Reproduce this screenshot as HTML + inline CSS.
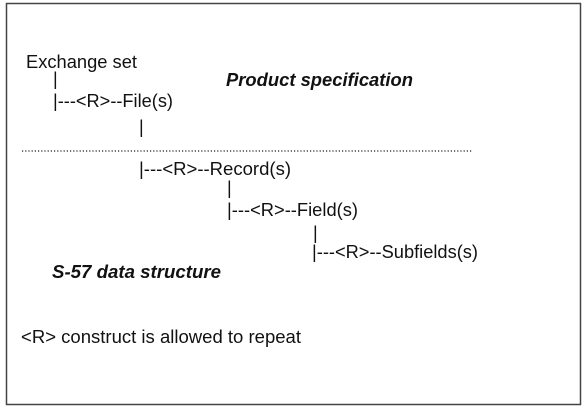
<!DOCTYPE html>
<html><head><style>
html,body{margin:0;padding:0;background:#fff;}
svg{display:block;}
text{font-family:"Liberation Sans",sans-serif;font-size:18px;fill:#111;}
.b{font-weight:bold;font-style:italic;}
</style></head><body>
<svg width="587" height="410" xmlns="http://www.w3.org/2000/svg">
<rect x="6.5" y="3.5" width="574" height="401" fill="#fff" stroke="#444" stroke-width="1.5"/>
<text x="26" y="68" textLength="111" lengthAdjust="spacingAndGlyphs">Exchange set</text>
<text x="53" y="85">|</text>
<text class="b" x="226" y="86" textLength="187" lengthAdjust="spacingAndGlyphs">Product specification</text>
<text x="53" y="107" textLength="120" lengthAdjust="spacingAndGlyphs">|---&lt;R&gt;--File(s)</text>
<text x="139" y="133">|</text>
<line x1="22" y1="151" x2="472" y2="151" stroke="#222" stroke-width="1.2" stroke-dasharray="1.2 2"/>
<text x="139" y="175" textLength="152" lengthAdjust="spacingAndGlyphs">|---&lt;R&gt;--Record(s)</text>
<text x="227" y="194">|</text>
<text x="227" y="216" textLength="131" lengthAdjust="spacingAndGlyphs">|---&lt;R&gt;--Field(s)</text>
<text x="313" y="239">|</text>
<text x="312" y="258" textLength="166" lengthAdjust="spacingAndGlyphs">|---&lt;R&gt;--Subfields(s)</text>
<text class="b" x="52" y="278" textLength="169" lengthAdjust="spacingAndGlyphs">S-57 data structure</text>
<text x="21" y="343" textLength="280" lengthAdjust="spacingAndGlyphs">&lt;R&gt; construct is allowed to repeat</text>
</svg>
</body></html>
